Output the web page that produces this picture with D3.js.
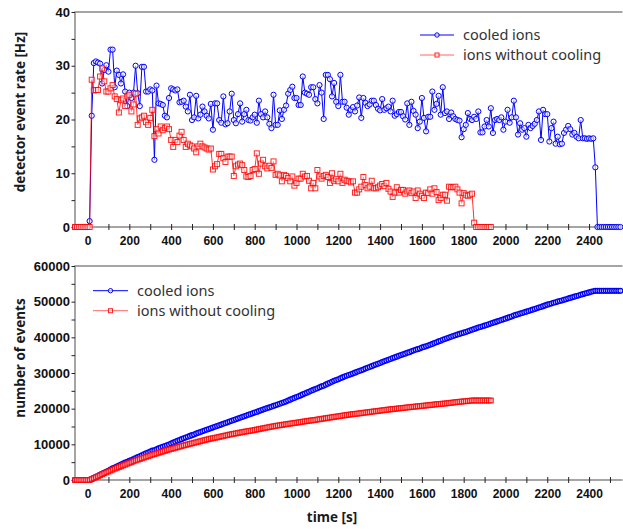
<!DOCTYPE html>
<html>
<head>
<meta charset="utf-8">
<script src="https://cdn.jsdelivr.net/npm/d3@7"></script>
<style>
    body { margin: 0; background: #fff; }
    .tick text { font-family: "Liberation Sans", Arial, sans-serif; font-weight: bold; fill: #111; }
    .title { font-family: "Open Sans", sans-serif; font-weight: bold; font-size: 13.5px; fill: #1a1a1a; }
    .legend text { font-family: "Noto Sans", sans-serif; font-size: 14.5px; fill: #333; }
</style>
</head>
<body>
<script>
// samples every 10 s, first one at t = -60 s
const START_TIME = -60;
const STEP = 10;

// detector event rate [Hz], cooled ions (-60 s ... 2550 s)
const cooledRate = [
    0, 0, 0, 0, 0, 0,
    0, 1.1, 20.7, 30.5, 30.8, 30.6, 30.4, 26.7, 29.2, 30.1,
    28.9, 33.0, 33.0, 26.0, 29.1, 28.3, 26.7, 28.4, 25.2, 22.5,
    25.0, 24.0, 25.0, 30.0, 24.9, 22.5, 29.8, 29.8, 25.2, 25.2,
    25.6, 25.4, 12.5, 26.3, 23.0, 22.9, 22.7, 20.7, 20.4, 24.0,
    25.8, 25.6, 25.4, 25.6, 23.2, 23.3, 23.5, 22.4, 21.5, 24.6,
    19.9, 20.4, 24.4, 20.2, 20.9, 22.4, 21.5, 20.7, 20.2, 22.9,
    18.1, 23.0, 23.0, 19.9, 19.4, 24.3, 19.1, 19.3, 21.5, 24.8,
    19.9, 19.3, 21.0, 23.0, 19.6, 21.0, 21.8, 19.9, 19.8, 20.4,
    20.9, 19.4, 23.5, 21.0, 20.4, 21.5, 20.4, 19.2, 18.4, 24.6,
    19.0, 19.0, 21.7, 20.1, 21.8, 22.6, 24.8, 25.5, 26.1, 24.0,
    24.0, 22.7, 22.7, 28.0, 25.0, 24.8, 24.6, 26.0, 26.0, 23.8,
    23.0, 26.4, 25.0, 20.1, 28.3, 28.3, 27.5, 24.3, 26.8, 23.3,
    22.5, 28.3, 23.3, 23.3, 22.2, 20.9, 21.8, 22.3, 21.5, 22.6,
    24.1, 20.3, 24.0, 23.1, 22.5, 22.8, 23.5, 23.5, 22.7, 22.0,
    21.7, 23.8, 21.8, 22.1, 22.4, 21.5, 23.5, 20.7, 21.0, 21.4,
    21.4, 20.6, 20.0, 23.0, 19.0, 23.3, 21.6, 20.9, 18.4, 19.6,
    24.0, 20.3, 17.8, 20.5, 20.5, 25.2, 21.8, 22.9, 24.4, 20.9,
    26.0, 21.2, 21.5, 20.1, 21.3, 20.6, 20.1, 19.9, 19.8, 16.7,
    18.2, 19.0, 21.2, 20.1, 19.9, 20.5, 20.1, 21.5, 17.6, 17.6,
    18.7, 19.9, 18.7, 22.1, 17.5, 19.9, 20.1, 19.9, 20.4, 18.1,
    19.6, 21.8, 19.4, 20.4, 23.5, 20.4, 17.2, 19.3, 18.1, 18.4,
    16.8, 19.0, 18.4, 18.8, 19.2, 19.9, 21.5, 16.2, 21.8, 21.0,
    21.0, 15.9, 18.4, 19.6, 15.5, 16.8, 15.4, 15.5, 17.5, 18.1,
    18.8, 18.2, 17.2, 17.5, 16.8, 16.5, 19.9, 16.5, 16.5, 16.4,
    16.5, 16.4, 16.5, 11.1, 0, 0, 0, 0, 0, 0,
    0, 0, 0, 0, 0, 0
];

// detector event rate [Hz], ions without cooling (-60 s ... 1930 s)
const uncooledRate = [
    0, 0, 0, 0, 0, 0,
    0, 0, 27.4, 25.4, 25.5, 25.5, 28.0, 29.5, 27.1, 25.2,
    25.2, 25.8, 26.4, 24.3, 23.8, 21.3, 23.6, 23.9, 22.5, 24.3,
    24.6, 21.5, 22.8, 24.8, 19.0, 20.2, 20.4, 20.7, 19.5, 19.0,
    20.3, 21.8, 16.9, 18.2, 17.4, 18.7, 18.0, 18.4, 18.7, 18.2,
    16.2, 14.9, 16.2, 15.8, 17.0, 17.7, 16.2, 14.9, 15.5, 15.2,
    15.0, 14.6, 13.9, 15.0, 15.5, 15.0, 14.8, 14.6, 14.4, 14.6,
    10.7, 11.3, 11.7, 13.6, 13.6, 12.8, 12.1, 13.1, 13.1, 13.1,
    9.5, 11.3, 11.6, 11.8, 11.5, 10.6, 9.4, 9.3, 9.5, 10.6,
    10.8, 13.7, 9.9, 11.8, 12.5, 11.3, 10.9, 11.4, 11.0, 12.2,
    9.7, 9.9, 9.6, 8.5, 9.7, 9.5, 9.1, 8.5, 9.4, 7.7,
    8.2, 9.0, 9.0, 9.9, 9.4, 9.5, 8.6, 7.2, 8.2, 7.2,
    10.6, 9.4, 9.0, 9.5, 9.7, 9.3, 8.2, 10.0, 8.6, 8.9,
    8.5, 9.9, 8.2, 8.8, 8.6, 8.5, 8.3, 8.5, 6.4, 6.4,
    7.0, 7.5, 9.3, 7.8, 7.2, 7.5, 8.6, 7.2, 7.2, 7.4,
    7.7, 8.0, 7.6, 8.2, 7.1, 6.6, 5.6, 6.4, 7.4, 6.4,
    6.9, 6.9, 6.2, 6.6, 6.8, 6.3, 6.6, 5.4, 6.8, 6.2,
    5.8, 5.4, 6.4, 6.3, 7.0, 6.2, 7.2, 6.5, 5.0, 5.4,
    6.0, 6.0, 4.9, 7.5, 7.4, 7.4, 7.5, 7.0, 6.4, 4.4,
    6.3, 6.0, 5.8, 6.0, 6.2, 0.8, 0, 0, 0, 0,
    0, 0, 0, 0
];

const seriesNames = ['cooled ions', 'ions without cooling'];
const timeLabels = [0, 200, 400, 600, 800, 1000, 1200, 1400, 1600, 1800, 2000, 2200, 2400];
const rateLabels = [0, 10, 20, 30, 40];
const countLabels = [0, 10000, 20000, 30000, 40000, 50000, 60000];

const width = 623;
const height = 529;

const svg = d3.select('body')
    .append('svg')
    .attr('width', width)
    .attr('height', height);

const x = d3.scaleLinear([-60, 2560], [75, 622.5]);
const yRate = d3.scaleLinear([0, 40], [227, 12]);
const yCount = d3.scaleLinear([0, 60000], [480, 266]);

const toPoints = arr => arr.map((v, i) => ({ t: START_TIME + i * STEP, v }));

const cooled = toPoints(cooledRate);
const uncooled = toPoints(uncooledRate);
// integrated counts = running sum of rate * sample length
const cooledTotal = toPoints(Array.from(d3.cumsum(cooledRate), d => d * STEP));
const uncooledTotal = toPoints(Array.from(d3.cumsum(uncooledRate), d => d * STEP));

const blue = { line: '#0000ff', marker: 'circle' };
const red = { line: '#ff0000', marker: 'square' };

drawPanel(yRate, 5, rateLabels, 13, [[cooled, blue], [uncooled, red]], 2.6, 5, 1);
drawPanel(yCount, 5000, countLabels, 13, [[cooledTotal, blue], [uncooledTotal, red]], 2.4, 4.6, 1.3);

addLegend(420, 35, 34);
addLegend(93, 290.7, 35);

svg.append('text')
    .attr('class', 'title')
    .attr('transform', 'translate(20,112) rotate(-90)')
    .attr('text-anchor', 'middle')
    .attr('dy', '0.35em')
    .text('detector event rate [Hz]');

svg.append('text')
    .attr('class', 'title')
    .attr('transform', 'translate(20,358) rotate(-90)')
    .attr('text-anchor', 'middle')
    .attr('dy', '0.35em')
    .text('number of events');

svg.append('text')
    .attr('class', 'title')
    .attr('x', 332)
    .attr('y', 522)
    .attr('text-anchor', 'middle')
    .text('time [s]');

function drawPanel(y, minorStep, labels, labelSize, series, r, sq, sw) {
    const [y0, y1] = y.range();
    const g = svg.append('g');

    // frame: left, top and bottom lines
    g.append('path')
        .attr('d', `M${x.range()[1]},${y1}H75V${y0}H${x.range()[1]}`)
        .attr('fill', 'none')
        .attr('stroke', '#888')
        .attr('stroke-width', 1.5);

    const xAxis = g.append('g')
        .attr('transform', `translate(0,${y0})`)
        .call(d3.axisBottom(x)
            .tickValues(d3.range(0, 2501, 100))
            .tickFormat(d => timeLabels.includes(d) ? d : '')
            .tickSize(3)
            .tickPadding(6));
    xAxis.select('.domain').remove();
    xAxis.selectAll('.tick line').attr('y1', -3).attr('stroke', '#222');
    xAxis.selectAll('.tick text').style('font-size', '12px');

    const yAxis = g.append('g')
        .attr('transform', 'translate(75,0)')
        .call(d3.axisLeft(y)
            .tickValues(d3.range(0, y.domain()[1] + 1, minorStep))
            .tickFormat(d => labels.includes(d) ? d : '')
            .tickSize(3.5)
            .tickPadding(1.5));
    yAxis.select('.domain').remove();
    yAxis.selectAll('.tick line').attr('stroke', '#222');
    yAxis.selectAll('.tick text').style('font-size', labelSize + 'px');

    const line = d3.line()
        .x(d => x(d.t))
        .y(d => y(d.v));

    series.forEach(([data, style]) => {
        const s = g.append('g');
        s.append('path')
            .datum(data)
            .attr('d', line)
            .attr('fill', 'none')
            .attr('stroke', style.line)
            .attr('stroke-opacity', style.marker === 'square' ? 0.8 : 1)
            .attr('stroke-width', 1);
        drawMarkers(s, data.map(d => [x(d.t), y(d.v)]), style, r, sq, sw);
    });
}

function drawMarkers(g, pts, style, r, sq, sw = 1) {
    if (style.marker === 'circle') {
        g.selectAll('circle')
            .data(pts)
            .join('circle')
            .attr('cx', d => d[0])
            .attr('cy', d => d[1])
            .attr('r', r)
            .attr('fill', '#fff')
            .attr('fill-opacity', 0.6)
            .attr('stroke', style.line)
            .attr('stroke-width', sw);
    } else {
        g.selectAll('rect')
            .data(pts)
            .join('rect')
            .attr('x', d => d[0] - sq / 2)
            .attr('y', d => d[1] - sq / 2)
            .attr('width', sq)
            .attr('height', sq)
            .attr('fill', '#fff')
            .attr('fill-opacity', 0.5)
            .attr('stroke', style.line)
            .attr('stroke-opacity', 0.85)
            .attr('stroke-width', sw);
    }
}

function addLegend(x0, y0, len) {
    const legend = svg.append('g').attr('class', 'legend');
    [blue, red].forEach((style, i) => {
        const yy = y0 + i * 20;
        legend.append('line')
            .attr('x1', x0).attr('x2', x0 + len)
            .attr('y1', yy).attr('y2', yy)
            .attr('stroke', style.line)
            .attr('stroke-opacity', i ? 0.6 : 1);
        drawMarkers(legend.append('g'), [[x0 + len / 2, yy]], style, 2.2, 4);
        legend.append('text')
            .attr('x', x0 + len + 9)
            .attr('y', yy)
            .attr('dy', '0.35em')
            .text(seriesNames[i]);
    });
}
</script>
</body>
</html>
